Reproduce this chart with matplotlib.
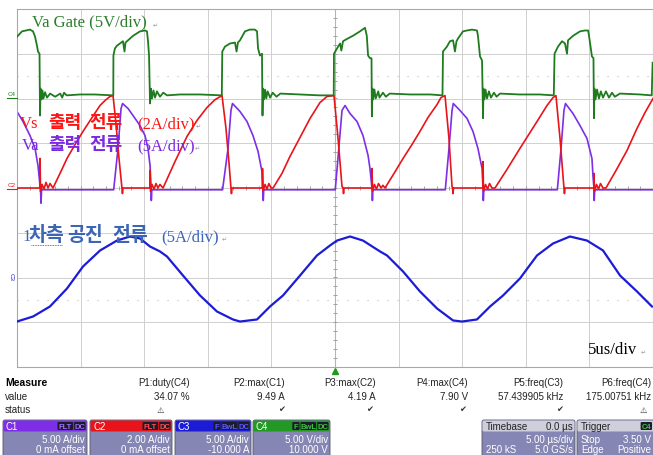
import matplotlib

matplotlib.use("Agg")
import matplotlib.pyplot as plt
import numpy as np
from matplotlib.patches import FancyBboxPatch

W, H = 653, 456

# --- scope setup (scale per div, offset as shown in the channel boxes)
TIME_PER_DIV = 5.0  # us/div
C1_SCALE, C1_OFFSET = 5.0, 0.0  # A
C2_SCALE, C2_OFFSET = 2.0, 0.0  # A
C3_SCALE, C3_OFFSET = 5.0, -10.0  # A
C4_SCALE, C4_OFFSET = 5.0, 10.0  # V

# --- traces: (time us, value)
GATE_C4 = [
    (0.00, 6.9), (0.39, 7.5), (1.02, 7.7), (1.26, 7.5), (1.42, 6.9), (1.57, 5.9), (1.65, 5.25),
    (1.77, 5.0), (1.81, -1.9), (1.85, 1.1), (1.93, -0.1), (2.00, 0.9), (2.08, 0.0), (2.20, 0.7),
    (2.36, 0.1), (2.60, 0.55), (3.00, 0.2), (3.40, 0.55), (3.55, 0.1), (3.70, 0.65), (3.90, 0.35),
    (4.95, 0.45), (6.10, 0.45), (7.45, 0.35),
    (7.57, 0.35), (7.58, 4.8), (7.70, 5.6), (7.86, 5.9), (8.10, 6.15), (8.33, 6.4), (8.45, 5.25),
    (8.53, 6.25), (8.73, 6.5), (9.12, 7.0), (9.67, 7.5), (10.06, 7.6), (10.22, 7.5), (10.30, 6.4),
    (10.38, 4.8), (10.46, -0.55), (10.53, 1.1), (10.61, 0.0), (10.73, 0.9), (10.85, 0.1),
    (11.00, 0.8), (11.24, 0.2), (11.50, 0.65), (11.80, 0.35), (12.80, 0.45), (14.40, 0.45),
    (16.00, 0.35),
    (16.10, 0.35), (16.14, 5.25), (16.35, 5.8), (16.75, 6.15), (17.14, 6.25), (17.26, 5.25),
    (17.37, 6.25), (17.53, 6.5), (17.92, 7.5), (18.30, 7.7), (18.70, 7.7), (18.87, 7.5),
    (18.95, 5.6), (19.10, 4.8), (19.26, 5.0), (19.30, -1.9), (19.34, 1.1), (19.42, -0.1),
    (19.50, 1.0), (19.60, 0.0), (19.70, 0.8), (19.90, 0.1), (20.10, 0.65), (20.40, 0.2),
    (20.70, 0.55), (22.25, 0.45), (23.80, 0.35), (24.90, 0.35),
    (24.92, 5.0), (25.16, 5.6), (25.40, 6.15), (25.50, 5.35), (25.63, 6.4), (26.00, 6.7),
    (26.40, 7.0), (26.96, 7.5), (27.36, 7.9), (27.50, 7.0), (27.60, 4.8), (27.75, 4.5),
    (27.87, 4.5), (27.90, -2.0), (27.95, 1.1), (28.00, -0.1), (28.10, 1.0), (28.20, 0.0),
    (28.40, 0.8), (28.50, 0.1), (28.77, 0.65), (29.00, 0.2), (29.30, 0.55), (30.90, 0.45),
    (32.50, 0.45), (33.45, 0.35),
    (33.49, 5.25), (33.80, 5.8), (34.04, 6.4), (34.28, 6.5), (34.43, 5.25), (34.55, 6.4),
    (34.67, 6.7), (35.06, 7.5), (35.38, 7.6), (35.77, 7.7), (36.16, 7.6), (36.24, 7.0),
    (36.40, 4.7), (36.56, 4.25), (36.64, -2.2), (36.67, 1.1), (36.75, -0.1), (36.83, 1.0),
    (36.95, 0.0), (37.10, 0.8), (37.26, 0.1), (37.50, 0.65), (37.70, 0.2), (37.97, 0.55),
    (39.50, 0.45), (41.10, 0.45), (42.20, 0.35),
    (42.26, 5.0), (42.53, 5.8), (42.85, 6.4), (43.08, 6.15), (43.24, 5.0), (43.32, 6.5),
    (43.71, 7.0), (44.26, 7.5), (44.65, 7.6), (44.90, 7.6), (44.97, 7.0), (45.20, 4.7),
    (45.32, 4.5), (45.36, -2.2), (45.40, 1.1), (45.48, -0.1), (45.60, 1.0), (45.75, 0.0),
    (45.90, 0.8), (46.07, 0.1), (46.30, 0.8), (46.54, 0.1), (46.78, 0.65), (47.00, 0.2),
    (47.40, 0.55), (49.00, 0.45), (49.90, 0.35), (49.97, 4.0),
]

VA_OUT_C1 = [
    (0.00, 8.55), (0.47, 7.43), (1.02, 5.87), (1.42, 4.41), (1.65, 2.51), (1.81, 0.28),
    (1.85, -0.2), (1.89, -1.7), (1.93, -0.2), (7.60, -0.2),
    (7.94, 4.41), (8.18, 8.88), (8.30, 9.44), (8.73, 8.88), (9.12, 8.10), (9.67, 6.98),
    (10.06, 5.87), (10.30, 4.41), (10.46, 2.51), (10.53, 0.28), (10.56, -1.4), (10.60, -0.2),
    (16.16, -0.2),
    (16.59, 4.41), (16.82, 8.66), (16.94, 9.44), (17.53, 8.55), (18.08, 7.43), (18.55, 5.87),
    (18.95, 4.08), (19.26, 1.84), (19.34, -0.06), (19.36, -1.4), (19.40, -0.2), (25.02, -0.2),
    (25.30, 4.41), (25.55, 8.66), (25.79, 9.22), (26.18, 8.32), (26.73, 7.43), (27.20, 5.87),
    (27.60, 3.63), (27.75, 2.18), (27.91, -0.06), (27.94, -1.4), (27.98, -0.2), (33.67, -0.2),
    (33.96, 4.41), (34.20, 8.66), (34.30, 9.44), (34.83, 8.66), (35.38, 7.77), (35.85, 6.31),
    (36.24, 4.41), (36.56, 2.18), (36.64, -0.06), (36.66, -1.4), (36.70, -0.2), (42.48, -0.2),
    (42.77, 4.41), (43.00, 8.66), (43.12, 9.44), (43.71, 8.32), (44.26, 6.98), (44.81, 5.53),
    (45.20, 3.30), (45.28, 1.40), (45.36, -0.06), (45.38, -1.4), (45.42, -0.2), (50.00, -0.2),
]

VS_OUT_C2 = [
    (0.00, 0.0), (1.79, 0.0), (1.81, 1.32), (1.85, -0.16), (1.97, 0.16), (2.12, -0.05),
    (2.28, 0.25), (2.44, 0.0), (2.60, 0.2), (2.83, 0.0),
    (3.38, 0.65), (3.93, 1.32), (4.56, 1.94), (5.19, 2.53), (5.90, 3.15), (6.53, 3.69),
    (6.92, 3.91), (7.31, 4.09), (7.55, 4.13),
    (7.78, 2.88), (8.02, 1.32), (8.25, 0.0), (8.29, -0.25), (8.33, 0.0), (10.45, 0.0),
    (10.46, 0.78), (10.50, -0.16), (10.61, 0.16), (10.77, -0.05), (10.93, 0.2), (11.08, 0.0),
    (11.24, 0.16), (11.48, 0.0),
    (12.42, 1.18), (13.36, 2.30), (14.15, 3.02), (14.94, 3.60), (15.57, 3.95), (16.12, 4.13),
    (16.43, 2.66), (16.67, 1.10), (16.82, 0.0), (16.86, -0.25), (16.90, 0.0), (19.28, 0.0),
    (19.30, 0.87), (19.34, -0.16), (19.50, 0.16), (19.65, -0.05), (19.80, 0.2), (19.97, 0.0),
    (20.13, 0.0),
    (20.83, 0.65), (21.46, 1.41), (22.25, 2.26), (23.03, 3.10), (23.82, 3.82), (24.37, 4.09),
    (24.92, 4.13),
    (25.24, 2.21), (25.55, 0.07), (25.63, 0.0), (25.67, -0.25), (25.71, 0.0), (27.89, 0.0),
    (27.91, 0.87), (27.95, -0.16), (28.10, 0.16), (28.26, -0.05), (28.42, 0.2), (28.62, 0.0),
    (28.77, 0.12), (28.93, 0.0),
    (29.64, 0.65), (30.35, 1.32), (31.05, 1.94), (31.68, 2.53), (32.31, 3.15), (33.02, 3.73),
    (33.33, 4.04), (33.65, 4.13),
    (33.96, 2.21), (34.20, 0.07), (34.24, 0.0), (34.28, -0.25), (34.32, 0.0), (36.62, 0.0),
    (36.64, 1.18), (36.67, -0.16), (36.83, 0.16), (36.99, -0.05), (37.15, 0.2), (37.34, 0.0),
    (37.58, 0.0),
    (38.52, 0.83), (39.54, 1.77), (40.88, 2.97), (41.67, 3.69), (42.14, 4.04), (42.37, 4.13),
    (42.69, 2.21), (43.00, 0.0), (43.04, -0.25), (43.08, 0.0), (45.35, 0.0), (45.36, 0.65),
    (45.40, -0.16), (45.56, 0.16), (45.72, -0.05), (45.87, 0.2), (46.07, 0.0), (46.30, 0.0),
    (47.09, 0.78), (47.96, 1.68), (48.74, 2.66), (49.37, 3.37), (50.00, 4.00),
]

RESONANT_C3 = [
    (0.00, -4.92), (1.26, -4.36), (2.59, -3.24), (3.93, -1.23), (5.19, 1.23), (6.53, 3.02),
    (7.86, 4.13), (8.88, 4.58), (9.67, 4.36), (10.46, 3.46), (11.24, 2.91), (11.79, 2.35),
    (13.05, 0.22), (14.39, -2.01), (15.72, -3.80), (16.98, -4.69), (17.53, -4.92),
    (18.87, -4.69), (19.89, -3.24), (20.91, -2.01), (22.25, 0.22), (23.58, 2.46),
    (24.61, 3.58), (25.16, 4.13), (26.18, 4.58), (27.20, 4.13), (28.54, 2.91), (29.09, 2.46),
    (30.35, 0.67), (31.68, -1.56), (33.02, -3.46), (34.28, -4.80), (34.98, -4.92),
    (36.16, -4.69), (37.19, -3.24), (38.21, -2.01), (39.54, -0.11), (40.88, 2.46),
    (42.14, 3.80), (43.47, 4.58), (44.81, 4.13), (46.07, 3.02), (47.41, 0.22), (48.74, -1.56),
    (49.92, -3.24),
]

# --- measurement table
MEAS_NAMES = ["P1:duty(C4)", "P2:max(C1)", "P3:max(C2)", "P4:max(C4)", "P5:freq(C3)", "P6:freq(C4)"]
MEAS_VALUES = ["34.07 %", "9.49 A", "4.19 A", "7.90 V", "57.439905 kHz", "175.00751 kHz"]
MEAS_STATUS = ["\u26a0", "\u2714", "\u2714", "\u2714", "\u2714", "\u26a0"]

CHANNELS = ["C1", "C2", "C3", "C4"]
CH_FLAGS = [["FLT", "DC"], ["FLT", "DC"], ["F", "BwL", "DC"], ["F", "BwL", "DC"]]
CH_SCALE_TXT = ["5.00 A/div", "2.00 A/div", "5.00 A/div", "5.00 V/div"]
CH_OFFSET_TXT = ["0 mA offset", "0 mA offset", "-10.000 A", "10.000 V"]

COLORS = {
    "C1": "#7d2ee6",
    "C2": "#e8141a",
    "C3": "#1c1cd6",
    "C4": "#1e7b1e",
}
GRID = "#cfcfcf"
BODY = "#8686b4"
SERIF = "Liberation Serif"
KR = "Noto Sans CJK KR"

plt.rcParams["font.family"] = ["Liberation Sans", "DejaVu Sans"]


def to_div(trace, scale, offset):
    t = np.array([p[0] for p in trace])
    v = np.array([p[1] for p in trace])
    return t, (v + offset) / scale


def setup_scope_ax(fig):
    ax = fig.add_axes([17 / W, (H - 368) / H, 636 / W, 358 / H])
    ax.set_xlim(0, 10 * TIME_PER_DIV)
    ax.set_ylim(-4, 4)
    ax.set_xticks([])
    ax.set_yticks([])
    for s in ax.spines.values():
        s.set_color("#a8a8a8")
        s.set_linewidth(0.8)
    for x in np.arange(0, 10 * TIME_PER_DIV + 0.1, TIME_PER_DIV):
        ax.axvline(x, color=GRID, lw=0.7, zorder=0)
    for y in range(-4, 5):
        ax.axhline(y, color=GRID, lw=0.7, zorder=0)
    for y in (-2.5, 2.5):
        ax.axhline(y, color="#bdbdbd", lw=0.8, ls=(0, (1, 8)), zorder=0)
    # center axes with minor ticks
    ax.axvline(25, color="#b5b5b5", lw=0.8, zorder=0)
    ax.hlines(np.arange(-4, 4.01, 0.2), 24.85, 25.15, color="#a0a0a0", lw=0.7, zorder=0)
    ax.vlines(np.arange(0, 50.01, 1), -0.05, 0.05, color="#a0a0a0", lw=0.7, zorder=0)
    return ax


def plot_traces(ax):
    t, y = to_div(VA_OUT_C1, C1_SCALE, C1_OFFSET)
    ax.plot(t, y, color=COLORS["C1"], lw=1.2, zorder=2)
    t, y = to_div(VS_OUT_C2, C2_SCALE, C2_OFFSET)
    ax.plot(t, y, color=COLORS["C2"], lw=1.2, zorder=3)
    t, y = to_div(RESONANT_C3, C3_SCALE, C3_OFFSET)
    ax.plot(t, y, color=COLORS["C3"], lw=1.6, zorder=4)
    t, y = to_div(GATE_C4, C4_SCALE, C4_OFFSET)
    ax.plot(t, y, color=COLORS["C4"], lw=1.3, zorder=5)


def add_labels(pax):
    # channel markers at the left edge
    pax.text(12, 94, "C4", color=COLORS["C4"], fontsize=4.5, ha="center", va="center")
    pax.plot([7, 17], [99, 99], color=COLORS["C4"], lw=0.8)
    pax.text(12, 186, "C2", color=COLORS["C2"], fontsize=4.5, ha="center", va="center")
    pax.plot([7, 17], [190, 190], color=COLORS["C2"], lw=0.8)
    pax.text(11, 277, "C3", color=COLORS["C3"], fontsize=4.5, ha="center", va="center", rotation=-90)
    # trigger marker
    pax.plot([335], [372], marker="^", color="#1e9a1e", ms=5)

    # overlay annotations (Latin in serif, Korean in bold gothic)
    green, red, purple, blue = "#2d7d2d", "#ff1414", "#7a2be0", "#3c66b4"
    kr = dict(family=KR, weight="bold", size=13, va="center")
    lat = dict(family=SERIF, size=12, va="center")
    ret = dict(size=4.5, color="#999999", va="center")

    pax.text(32, 22, "Va Gate (5V/div)", color=green, **lat)
    pax.text(153, 26, "\u21b5", **ret)

    pax.text(20, 124, "Vs", color=red, **lat)
    pax.text(48, 123, "출력", color=red, **kr)
    pax.text(89, 123, "전류", color=red, **kr)
    pax.text(137, 124, "(2A/div)", color=red, **lat)
    pax.text(196, 127, "\u21b5", **ret)

    pax.text(22, 146, "Va", color=purple, **lat)
    pax.text(48, 145, "출력", color=purple, **kr)
    pax.text(89, 145, "전류", color=purple, **kr)
    pax.text(137, 146, "(5A/div)", color=purple, **lat)
    pax.text(195, 149, "\u21b5", **ret)

    pax.text(22, 237, "1", color=blue, **lat)
    kr4 = dict(kr, size=14)
    pax.text(29, 236, "차측", color=blue, **kr4)
    pax.text(67, 236, "공진", color=blue, **kr4)
    pax.text(112, 236, "전류", color=blue, **kr4)
    pax.text(161, 237, "(5A/div)", color=blue, **lat)
    pax.text(222, 240, "\u21b5", **ret)
    pax.plot([31, 62], [246, 246], color="red", lw=0.6, ls=(0, (1, 1)))

    pax.text(588, 350, "5us/div", color="black", **lat)
    pax.text(641, 353, "\u21b5", **ret)


def add_box(pax, x0, x1, head_color):
    y0, yh, y1 = 421, 432, 458
    pax.add_patch(FancyBboxPatch((x0, y0), x1 - x0, y1 - y0, boxstyle="round,pad=0,rounding_size=2",
                                 facecolor=BODY, edgecolor="#55556a", lw=0.6))
    pax.add_patch(FancyBboxPatch((x0 + 0.5, y0 + 0.5), x1 - x0 - 1, yh - y0,
                                 boxstyle="round,pad=0,rounding_size=1.5",
                                 facecolor=head_color, edgecolor="none"))


def add_badges(pax, x_right, labels, text_color):
    x = x_right
    for lab in reversed(labels):
        w = 4.2 * len(lab) + 3
        pax.add_patch(FancyBboxPatch((x - w, 423), w, 8, boxstyle="round,pad=0,rounding_size=1",
                                     facecolor="#1b1b2b", edgecolor="none"))
        pax.text(x - w / 2, 427.3, lab, color=text_color, fontsize=5.5, ha="center", va="center",
                 weight="bold")
        x -= w + 1


def add_panel(pax):
    fs = 7
    pax.text(5, 383, "Measure", fontsize=7.5, weight="bold", va="center")
    pax.text(5, 397, "value", fontsize=fs, va="center", color="#222222")
    pax.text(5, 410, "status", fontsize=fs, va="center", color="#222222")
    rights = [190, 285, 376, 468, 563, 651]
    status_x = [160, 282, 370, 463, 560, 643]
    for name, val, st, xr, xs in zip(MEAS_NAMES, MEAS_VALUES, MEAS_STATUS, rights, status_x):
        pax.text(xr, 383, name, fontsize=fs, ha="right", va="center", color="#222222")
        pax.text(xr, 397, val, fontsize=fs, ha="right", va="center", color="#222222")
        pax.text(xs, 410, st, fontsize=6, ha="center", va="center", color="#333333",
                 family=["DejaVu Sans"])

    spans = [(3, 87), (90, 172), (175, 251), (253, 330)]
    badge_colors = ["#a070ff", "#ff5050", "#5a5aff", "#40c040"]
    for ch, (x0, x1), flags, sc, off, bc in zip(CHANNELS, spans, CH_FLAGS, CH_SCALE_TXT,
                                               CH_OFFSET_TXT, badge_colors):
        add_box(pax, x0, x1, COLORS[ch] if ch != "C4" else "#229922")
        pax.text(x0 + 3, 427, ch, color="white", fontsize=fs, va="center")
        add_badges(pax, x1 - 1.5, flags, bc)
        pax.text(x1 - 2, 440, sc, color="white", fontsize=fs, ha="right", va="center")
        pax.text(x1 - 2, 450, off, color="white", fontsize=fs, ha="right", va="center")

    # timebase
    add_box(pax, 482, 575, "#cfcfdc")
    pax.text(486, 427, "Timebase", fontsize=fs, va="center", color="#222222")
    pax.text(573, 427, "0.0 \u00b5s", fontsize=fs, ha="right", va="center", color="#222222")
    pax.text(573, 440, "5.00 \u00b5s/div", fontsize=fs, ha="right", va="center", color="white")
    pax.text(486, 450, "250 kS", fontsize=fs, va="center", color="white")
    pax.text(573, 450, "5.0 GS/s", fontsize=fs, ha="right", va="center", color="white")

    # trigger
    add_box(pax, 577, 662, "#cfcfdc")
    pax.text(581, 427, "Trigger", fontsize=fs, va="center", color="#222222")
    add_badges(pax, 652, ["C4"], "#40c040")
    pax.text(581, 440, "Stop", fontsize=fs, va="center", color="white")
    pax.text(651, 440, "3.50 V", fontsize=fs, ha="right", va="center", color="white")
    pax.text(581, 450, "Edge", fontsize=fs, va="center", color="white")
    pax.text(651, 450, "Positive", fontsize=fs, ha="right", va="center", color="white")


def main():
    fig = plt.figure(figsize=(W / 100, H / 100), dpi=100)
    fig.patch.set_facecolor("white")
    ax = setup_scope_ax(fig)
    plot_traces(ax)

    pax = fig.add_axes([0, 0, 1, 1], zorder=5)
    pax.set_xlim(0, W)
    pax.set_ylim(H, 0)
    pax.axis("off")
    pax.patch.set_alpha(0)
    add_labels(pax)
    add_panel(pax)

    fig.savefig("out.png", dpi=100)


if __name__ == "__main__":
    main()
